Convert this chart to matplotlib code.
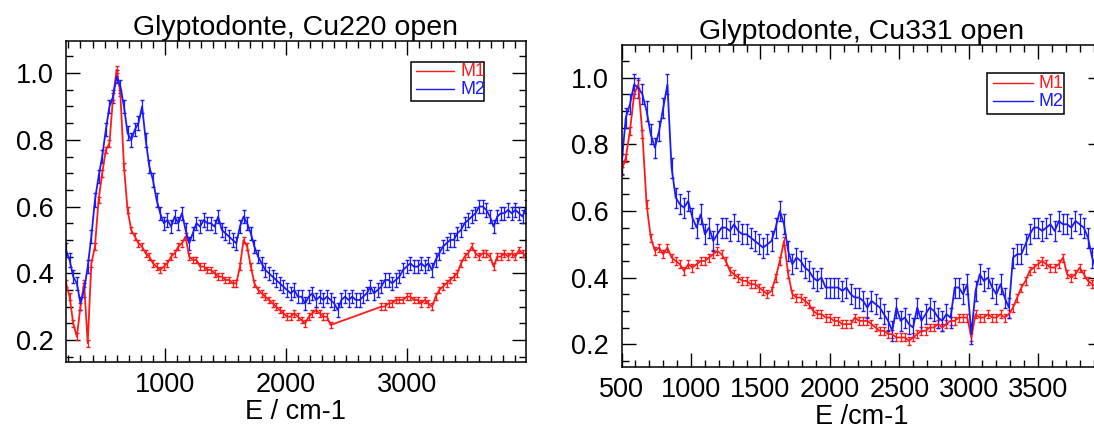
import numpy as np
import matplotlib.pyplot as plt
from matplotlib.ticker import MultipleLocator, FormatStrFormatter
from matplotlib.patches import Rectangle

plt.rcParams['font.family'] = ['Liberation Sans', 'DejaVu Sans']

## Cu220 : energie (cm-1), pas de 30
E220_m2 = np.arange(180, 4000, 30)
M2_220 = [0.47, 0.44, 0.39, 0.37, 0.31, 0.35, 0.42, 0.51, 0.62, 0.69,
          0.75, 0.83, 0.90, 0.93, 0.99, 0.96, 0.90, 0.82, 0.80, 0.83,
          0.85, 0.90, 0.80, 0.72, 0.68, 0.62, 0.58, 0.55, 0.56, 0.54,
          0.57, 0.55, 0.58, 0.53, 0.49, 0.52, 0.55, 0.54, 0.56, 0.55,
          0.55, 0.54, 0.57, 0.53, 0.52, 0.51, 0.50, 0.49, 0.54, 0.57,
          0.55, 0.52, 0.48, 0.45, 0.43, 0.41, 0.40, 0.39, 0.38, 0.37,
          0.36, 0.35, 0.34, 0.35, 0.33, 0.33, 0.31, 0.33, 0.34, 0.32,
          0.33, 0.32, 0.33, 0.32, 0.31, 0.29, 0.32, 0.33, 0.32, 0.33,
          0.32, 0.32, 0.33, 0.34, 0.36, 0.34, 0.35, 0.36, 0.38, 0.38,
          0.37, 0.38, 0.39, 0.41, 0.42, 0.43, 0.42, 0.42, 0.43, 0.42,
          0.43, 0.41, 0.44, 0.46, 0.48, 0.49, 0.50, 0.50, 0.52, 0.53,
          0.55, 0.56, 0.57, 0.58, 0.60, 0.60, 0.59, 0.57, 0.54, 0.57,
          0.58, 0.58, 0.59, 0.58, 0.59, 0.58, 0.57, 0.60]
# M1 : pas de mesure entre ~2400 et ~2790
E220_m1 = np.concatenate([np.arange(180, 2400, 30), np.arange(2790, 4000, 30)])
M1_220 = [0.37, 0.33, 0.25, 0.21, 0.30, 0.37, 0.19, 0.43, 0.48, 0.62,
          0.70, 0.77, 0.79, 0.93, 1.01, 0.94, 0.72, 0.59, 0.53, 0.51,
          0.49, 0.48, 0.46, 0.45, 0.43, 0.42, 0.41, 0.42, 0.43, 0.45,
          0.46, 0.48, 0.49, 0.51, 0.45, 0.44, 0.44, 0.42, 0.42, 0.41,
          0.41, 0.40, 0.39, 0.39, 0.38, 0.38, 0.37, 0.37, 0.42, 0.50,
          0.48, 0.42, 0.37, 0.35, 0.34, 0.33, 0.32, 0.31, 0.30, 0.29,
          0.28, 0.27, 0.27, 0.28, 0.27, 0.26, 0.25, 0.27, 0.28, 0.29,
          0.28, 0.27, 0.27, 0.245,
          0.30, 0.30, 0.31, 0.31, 0.32, 0.32, 0.32, 0.33, 0.33, 0.32,
          0.32, 0.31, 0.32, 0.31, 0.30, 0.33, 0.35, 0.36, 0.37, 0.38,
          0.39, 0.40, 0.43, 0.45, 0.46, 0.48, 0.46, 0.45, 0.46, 0.46,
          0.45, 0.42, 0.45, 0.45, 0.46, 0.45, 0.46, 0.45, 0.47, 0.46, 0.45]

## Cu331
E331 = np.arange(500, 3930, 30)
M2_331 = [0.74, 0.88, 0.92, 0.98, 0.97, 0.95, 0.90, 0.83, 0.79, 0.84,
          0.91, 0.98, 0.73, 0.64, 0.62, 0.61, 0.63, 0.58, 0.55, 0.59,
          0.53, 0.55, 0.51, 0.53, 0.55, 0.55, 0.54, 0.56, 0.54, 0.53,
          0.53, 0.52, 0.51, 0.50, 0.49, 0.50, 0.51, 0.55, 0.60, 0.56,
          0.48, 0.44, 0.46, 0.45, 0.43, 0.42, 0.40, 0.39, 0.40, 0.37,
          0.37, 0.37, 0.37, 0.36, 0.37, 0.35, 0.34, 0.34, 0.33, 0.31,
          0.33, 0.32, 0.31, 0.29, 0.27, 0.24, 0.31, 0.27, 0.28, 0.26,
          0.25, 0.31, 0.27, 0.29, 0.31, 0.30, 0.28, 0.27, 0.29, 0.28,
          0.37, 0.37, 0.35, 0.38, 0.23, 0.36, 0.41, 0.39, 0.40, 0.37,
          0.35, 0.38, 0.34, 0.31, 0.46, 0.47, 0.47, 0.50, 0.53, 0.55,
          0.55, 0.54, 0.55, 0.56, 0.54, 0.57, 0.56, 0.56, 0.55, 0.57,
          0.56, 0.55, 0.52, 0.46, 0.42]
M1_331 = [0.72, 0.76, 0.84, 0.95, 0.98, 0.83, 0.62, 0.52, 0.48, 0.49,
          0.47, 0.49, 0.46, 0.45, 0.44, 0.42, 0.44, 0.43, 0.44, 0.45,
          0.45, 0.46, 0.47, 0.48, 0.47, 0.45, 0.42, 0.41, 0.40, 0.39,
          0.39, 0.38, 0.38, 0.37, 0.36, 0.35, 0.36, 0.40, 0.45, 0.51,
          0.41, 0.35, 0.34, 0.34, 0.33, 0.32, 0.30, 0.29, 0.29, 0.28,
          0.28, 0.27, 0.27, 0.26, 0.26, 0.26, 0.28, 0.27, 0.27, 0.27,
          0.26, 0.25, 0.24, 0.24, 0.23, 0.23, 0.22, 0.22, 0.22, 0.21,
          0.22, 0.23, 0.24, 0.24, 0.25, 0.25, 0.26, 0.25, 0.26, 0.27,
          0.27, 0.28, 0.28, 0.28, 0.22, 0.29, 0.28, 0.28, 0.29, 0.28,
          0.28, 0.29, 0.28, 0.29, 0.31, 0.34, 0.37, 0.39, 0.42, 0.43,
          0.44, 0.45, 0.44, 0.43, 0.43, 0.44, 0.46, 0.41, 0.40, 0.41,
          0.43, 0.41, 0.39, 0.38, 0.37]

# barres d'erreur (approx.)
err220 = [0.010, 0.020]
err331 = [0.012, 0.030]

col_m1 = '#ff1a1a'
col_m2 = '#1a1aff'


def legende(ax, box, y_m1, y_m2, x_line, x_txt):
    ax.add_patch(Rectangle((box[0], box[1]), box[2], box[3], transform=ax.transAxes,
                           fill=False, edgecolor='black', lw=1.1, zorder=5))
    for y, c, lab in [(y_m1, col_m1, 'M1'), (y_m2, col_m2, 'M2')]:
        ax.plot(x_line, [y, y], color=c, lw=1, transform=ax.transAxes, zorder=5)
        ax.text(x_txt, y, lab, color=c, fontsize=13, va='center', ha='left',
                transform=ax.transAxes, zorder=5)


def style(ax, xmaj, xlim, ylim):
    ax.set_xlim(xlim)
    ax.set_ylim(ylim)
    ax.xaxis.set_major_locator(MultipleLocator(xmaj))
    ax.xaxis.set_minor_locator(MultipleLocator(100))
    ax.yaxis.set_major_locator(MultipleLocator(0.2))
    ax.yaxis.set_minor_locator(MultipleLocator(0.05))
    ax.yaxis.set_major_formatter(FormatStrFormatter('%.1f'))
    ax.tick_params(which='both', direction='in', top=True, right=True, width=1)
    ax.tick_params(which='major', length=10, labelsize=19.5, pad=7)
    ax.tick_params(which='minor', length=5)
    ax.tick_params(axis='y', which='major', pad=9)
    for s in ax.spines.values():
        s.set_linewidth(1.1)


fig = plt.figure(figsize=(10.94, 4.30), dpi=100)

ax1 = fig.add_axes([0.0603, 0.158, 0.4205, 0.7465])
ax1.errorbar(E220_m1, M1_220, yerr=err220[0], color=col_m1, lw=1.3, elinewidth=0.9, capsize=1.5)
ax1.errorbar(E220_m2, M2_220, yerr=err220[1], color=col_m2, lw=1.3, elinewidth=0.9, capsize=1.5)
style(ax1, 1000, (180, 3988), (0.134, 1.096))
ax1.set_title("Glyptodonte, Cu220 open", fontsize=20.5, pad=4)
ax1.set_xlabel("E / cm-1", fontsize=19.5, labelpad=1)
legende(ax1, (0.749, 0.813, 0.160, 0.1215), 0.9065, 0.8505, [0.761, 0.843], 0.857)

ax2 = fig.add_axes([0.5682, 0.147, 0.4391, 0.748])
ax2.errorbar(E331, M1_331, yerr=err331[0], color=col_m1, lw=1.3, elinewidth=0.9, capsize=1.5)
ax2.errorbar(E331, M2_331, yerr=err331[1], color=col_m2, lw=1.3, elinewidth=0.9, capsize=1.5)
style(ax2, 500, (500, 3961), (0.132, 1.098))
ax2.set_title("Glyptodonte, Cu331 open", fontsize=20.5, pad=4)
ax2.set_xlabel("E /cm-1", fontsize=19.5, labelpad=1)
legende(ax2, (0.760, 0.785, 0.161, 0.129), 0.882, 0.826, [0.773, 0.856], 0.867)

plt.savefig("out.png", dpi=100)
